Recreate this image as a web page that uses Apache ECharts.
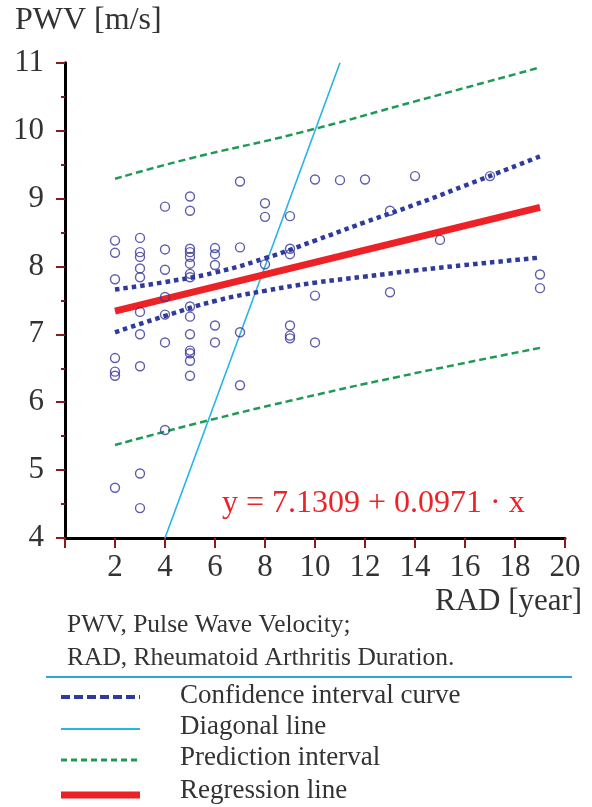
<!DOCTYPE html>
<html>
<head>
<meta charset="utf-8">
<script src="https://cdn.jsdelivr.net/npm/echarts@6/dist/echarts.min.js"></script>
<style>
html,body{margin:0;padding:0;background:#fff;}
#chart{width:592px;height:807px;}
</style>
</head>
<body>
<div id="chart"></div>
<script>
// Scatter observations: RAD [year] and PWV [m/s]
var radValues = [2,2,2,2,2,2,2,
  3,3,3,3,3,3,3,3,3,3,
  4,4,4,4,4,4,4,
  5,5,5,5,5,5,5,5,5,5,5,5,5,5,5,
  6,6,6,6,6,
  7,7,7,7,
  8,8,8,
  9,9,9,9,9,9,
  10,10,10,
  11,12,13,13,14,15,17,19,19];
var pwvValues = [8.38,8.20,7.81,6.65,6.45,6.39,4.74,
  8.42,8.21,8.14,7.97,7.84,7.33,7.00,6.53,4.95,4.44,
  8.88,8.25,7.95,7.55,7.29,6.88,5.59,
  9.03,8.82,8.26,8.21,8.14,8.04,7.89,7.84,7.41,7.26,7.00,6.76,6.72,6.61,6.39,
  8.27,8.18,8.02,7.13,6.88,
  9.25,8.28,7.03,6.25,
  8.93,8.73,8.03,
  8.74,8.26,8.18,7.13,6.98,6.94,
  9.28,7.57,6.88,
  9.27,9.28,8.82,7.62,9.33,8.39,9.33,7.88,7.68];

// Confidence interval curves
var ciX = [2,4,6,8,10,12,14,16,19];
var ciUpper = [7.66,7.77,7.91,8.12,8.38,8.65,8.91,9.19,9.62];
var ciLower = [7.03,7.27,7.49,7.64,7.76,7.85,7.94,8.02,8.13];

// Prediction interval
var piUpperX = [2,5,9.4,14,19];
var piUpper = [9.29,9.59,9.97,10.43,10.93];
var piLowerX = [2,5.4,9,13.4,19];
var piLower = [5.37,5.70,6.02,6.38,6.80];

// Regression line and diagonal line
var regX = [2,19];
var regY = [7.34,8.87];
var diagX = [4,11];
var diagY = [4,11];

// Axis tick settings
var xTicks = {min:0, max:20, interval:2};
var yTicks = {min:4, max:11, interval:1};

function pairs(xs, ys){ return xs.map(function(x,i){ return [x, ys[i]]; }); }

var serif = '"Liberation Serif", "Times New Roman", Times, serif';
var textColor = '#333333';
var tickRed = '#8b1a1a';
function font(size){ return size + 'px ' + serif; }

var chart = echarts.init(document.getElementById('chart'), null, {renderer:'canvas'});
var option = {
  animation:false,
  backgroundColor:'#ffffff',
  grid:{left:65, right:27, top:62.7, bottom:269, containLabel:false},
  xAxis:{
    type:'value', min:xTicks.min, max:xTicks.max, interval:xTicks.interval,
    axisLine:{show:true, onZero:false, lineStyle:{color:'#000', width:3}},
    axisTick:{show:true, inside:false, length:10, lineStyle:{color:tickRed, width:2}},
    splitLine:{show:false},
    axisLabel:{margin:14, fontFamily:'Liberation Serif', fontSize:31, color:textColor,
      formatter:function(v){ return v===0 ? '' : String(v); }}
  },
  yAxis:{
    type:'value', min:yTicks.min, max:yTicks.max, interval:yTicks.interval,
    axisLine:{show:true, onZero:false, lineStyle:{color:'#000', width:3}},
    axisTick:{show:true, inside:false, length:9, lineStyle:{color:tickRed, width:2}},
    minorTick:{show:true, splitNumber:2, length:4, lineStyle:{color:tickRed, width:2}},
    splitLine:{show:false},
    axisLabel:{margin:21, fontFamily:'Liberation Serif', fontSize:31, color:textColor}
  },
  series:[
    {type:'line', name:'Prediction interval upper', data:pairs(piUpperX, piUpper), symbol:'none', smooth:true,
      lineStyle:{color:'#1f9a55', width:2.5, type:[7,4]}, z:2},
    {type:'line', name:'Prediction interval lower', data:pairs(piLowerX, piLower), symbol:'none', smooth:true,
      lineStyle:{color:'#1f9a55', width:2.5, type:[7,4]}, z:2},
    {type:'line', name:'Diagonal line', data:pairs(diagX, diagY), symbol:'none',
      lineStyle:{color:'#29b4e6', width:1.6}, z:3},
    {type:'line', name:'Confidence upper', data:pairs(ciX, ciUpper), symbol:'none', smooth:true,
      lineStyle:{color:'#2e3b9c', width:4.5, type:[4.5,4], cap:'butt'}, z:4},
    {type:'line', name:'Confidence lower', data:pairs(ciX, ciLower), symbol:'none', smooth:true,
      lineStyle:{color:'#2e3b9c', width:4.5, type:[4.5,4], cap:'butt'}, z:4},
    {type:'line', name:'Regression line', data:pairs(regX, regY), symbol:'none',
      lineStyle:{color:'#ec2227', width:7}, z:5},
    {type:'scatter', name:'Observations', data:pairs(radValues, pwvValues), symbol:'circle', symbolSize:9,
      itemStyle:{color:'rgba(255,255,255,0)', borderColor:'#34369a', borderWidth:1.4}, z:6}
  ],
  graphic:[
    {type:'text', left:15, top:5, style:{text:'PWV [m/s]', font:font(32), fill:textColor}},
    {type:'text', left:435, top:586, style:{text:'RAD [year]', font:font(31), fill:textColor}},
    {type:'text', left:222, top:488, style:{text:'y = 7.1309 + 0.0971 \u00b7 x', font:font(32), fill:'#ec2227'}},
    {type:'text', left:67, top:612, style:{text:'PWV, Pulse Wave Velocity;', font:font(25.5), fill:textColor}},
    {type:'text', left:67, top:645, style:{text:'RAD, Rheumatoid Arthritis Duration.', font:font(25.5), fill:textColor}},
    {type:'line', shape:{x1:46, y1:677, x2:572, y2:677}, style:{stroke:'#29a8e0', lineWidth:2}},
    {type:'line', shape:{x1:61, y1:697, x2:140, y2:697}, style:{stroke:'#2e3b9c', lineWidth:4, lineDash:[9,4]}},
    {type:'text', left:180, top:682, style:{text:'Confidence interval curve', font:font(27), fill:textColor}},
    {type:'line', shape:{x1:61, y1:729, x2:140, y2:729}, style:{stroke:'#29b4e6', lineWidth:2}},
    {type:'text', left:180, top:713, style:{text:'Diagonal line', font:font(27), fill:textColor}},
    {type:'line', shape:{x1:61, y1:760, x2:140, y2:760}, style:{stroke:'#1f9a55', lineWidth:3, lineDash:[6,4]}},
    {type:'text', left:180, top:744, style:{text:'Prediction interval', font:font(27), fill:textColor}},
    {type:'line', shape:{x1:61, y1:795, x2:140, y2:795}, style:{stroke:'#ec2227', lineWidth:7}},
    {type:'text', left:180, top:777, style:{text:'Regression line', font:font(27), fill:textColor}}
  ]
};
chart.setOption(option);
</script>
</body>
</html>
